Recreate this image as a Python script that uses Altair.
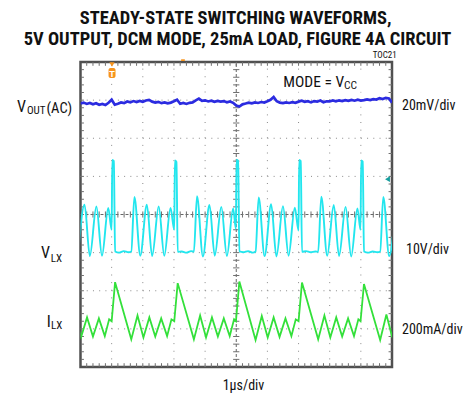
import altair as alt
import pandas as pd

# ---------------- data read from the scope screen ----------------
# time axis: microseconds (1 us/div, 10 divisions)
# VOUT(AC) trace, mV (20 mV/div)
vout_t = [0.0, 0.1, 0.2, 0.3, 0.4, 0.5, 0.6, 0.7, 0.8, 0.9,
          1.0, 1.1, 1.2, 1.3, 1.4, 1.5, 1.6, 1.7, 1.8, 1.9,
          2.0, 2.1, 2.2, 2.3, 2.4, 2.5, 2.6, 2.7, 2.8, 2.9,
          3.0, 3.1, 3.2, 3.3, 3.4, 3.5, 3.6, 3.7, 3.8, 3.9,
          4.0, 4.1, 4.2, 4.3, 4.4, 4.5, 4.6, 4.7, 4.8, 4.9,
          5.0, 5.1, 5.2, 5.3, 5.4, 5.5, 5.6, 5.7, 5.8, 5.9,
          6.0, 6.1, 6.2, 6.3, 6.4, 6.5, 6.6, 6.7, 6.8, 6.9,
          7.0, 7.1, 7.2, 7.3, 7.4, 7.5, 7.6, 7.7, 7.8, 7.9,
          8.0, 8.1, 8.2, 8.3, 8.4, 8.5, 8.6, 8.7, 8.8, 8.9,
          9.0, 9.1, 9.2, 9.3, 9.4, 9.5, 9.6, 9.7, 9.8, 9.9, 10.0]
vout_mv = [-0.8, -0.3, -1.0, -0.5, -1.2, -0.6, -1.4, -1.0, -1.6, -0.4,
           1.2, -1.4, -0.9, -0.2, -0.6, 0.3, -0.2, 0.5, 0.0, 0.6,
           0.1, 0.8, 1.1, 0.2, -0.3, 0.1, -0.6, -0.2, -0.7, -0.3,
           0.4, 1.2, -0.9, -0.5, -1.0, -0.4, -0.2, 0.9, 1.8, 0.6,
           0.9, 0.3, 0.7, 0.1, 0.6, 0.2, 0.5, -0.1, 0.3, -0.4,
           -1.8, -2.4, -1.2, -0.8, -0.3, -0.7, -0.2, -0.5, 0.0, -0.3,
           0.4, 1.2, 2.6, 0.4, -0.3, -0.6, -0.2, -0.5, -0.1, -0.4,
           0.2, 0.7, 0.1, 0.4, -0.2, 0.5, 0.2, 0.8, -0.1, 0.4,
           0.3, 0.8, 0.4, 0.9, 0.5, 1.0, 0.6, 1.1, 0.7, 1.2,
           0.8, 1.0, 1.4, 1.0, 1.5, 1.3, 2.0, 1.6, 2.2, 1.9, -0.3]

# VLX trace, volts (10 V/div)
vlx_t = [-0.08, 0.13, 0.30, 0.51, 0.69, 0.89,
         1.00, 1.02, 1.07, 1.11, 1.24, 1.39, 1.54, 1.63, 1.73, 1.92, 2.13, 2.30, 2.51, 2.69, 2.89,
         3.01, 3.03, 3.08, 3.12, 3.25, 3.40, 3.55, 3.64, 3.74, 3.93, 4.14, 4.31, 4.52, 4.70, 4.90,
         4.99, 5.01, 5.06, 5.10, 5.23, 5.38, 5.53, 5.62, 5.72, 5.91, 6.12, 6.29, 6.50, 6.68, 6.88,
         7.00, 7.02, 7.07, 7.11, 7.24, 7.39, 7.54, 7.63, 7.73, 7.92, 8.13, 8.30, 8.51, 8.69, 8.89,
         8.99, 9.01, 9.06, 9.10, 9.23, 9.38, 9.53, 9.62, 9.72, 9.91, 10.12]
vlx_v = [-0.9, 12.6, -0.9, 12.1, -0.8, 11.7,
         6.0, 24.3, 24.0, 0.3, 0.0, 0.4, 0.1, 0.3, 14.6, -0.8, 12.6, -0.9, 12.1, -0.8, 11.7,
         6.0, 24.2, 23.8, 0.2, 0.3, 0.0, 0.4, 0.2, 14.8, -1.0, 12.5, -0.8, 12.0, -0.9, 11.6,
         6.2, 24.4, 24.1, 0.3, 0.1, 0.4, 0.0, 0.3, 14.5, -0.9, 12.7, -1.0, 12.2, -0.8, 11.8,
         5.8, 24.3, 24.0, 0.2, 0.4, 0.1, 0.3, 0.2, 14.7, -0.8, 12.5, -0.9, 12.0, -1.0, 11.6,
         6.0, 24.2, 23.9, 0.3, 0.0, 0.3, 0.1, 0.3, 14.6, -0.9, 12.6]

# ILX trace, mA (200 mA/div)
ilx_t = [-0.17, 0.02, 0.21, 0.40, 0.59, 0.78, 0.92, 1.00,
         1.11, 1.63, 1.83, 2.02, 2.21, 2.40, 2.59, 2.78, 2.92, 3.01,
         3.12, 3.64, 3.84, 4.03, 4.22, 4.41, 4.60, 4.79, 4.93, 4.99,
         5.10, 5.62, 5.82, 6.01, 6.20, 6.39, 6.58, 6.77, 6.91, 7.00,
         7.11, 7.63, 7.83, 8.02, 8.21, 8.40, 8.59, 8.78, 8.92, 8.99,
         9.10, 9.62, 9.82, 10.01]
ilx_ma = [70, -43, 60, -40, 55, -38, 50, 40,
          245, -55, 70, -45, 60, -40, 55, -38, 50, 40,
          240, -55, 70, -45, 60, -40, 55, -38, 50, 40,
          248, -58, 68, -45, 60, -42, 55, -38, 50, 40,
          243, -55, 70, -45, 60, -40, 55, -38, 50, 40,
          235, -58, 75, -45]

# scope channel settings: (units per division, screen position in divisions)
VOUT_SCALE, VOUT_POS = 20.0, 2.95
VLX_SCALE, VLX_POS = 10.0, -1.0
ILX_SCALE, ILX_POS = 200.0, -3.0

# ---------------- styling ----------------
FONT = "Roboto Condensed, Liberation Sans, sans-serif"
BLUE = "#2b2be0"
CYAN = "#22e6ee"
GREEN = "#33e03a"
ORANGE = "#f7941d"
TEAL = "#169e9e"

xs = alt.Scale(domain=[0, 10], nice=False, zero=False)
ys = alt.Scale(domain=[-4, 4], nice=False, zero=False)


def X(f):
    return alt.X(f, type="quantitative", scale=xs, axis=None)


def Y(f):
    return alt.Y(f, type="quantitative", scale=ys, axis=None)


layers = []

# ---------------- graticule ----------------
vgrid = pd.DataFrame({"t": [1, 2, 3, 4, 6, 7, 8, 9], "y0": -4, "y1": 4})
hgrid = pd.DataFrame({"y": [-3, -2, -1, 1, 2, 3], "t0": 0, "t1": 10})
layers.append(alt.Chart(vgrid).mark_rule(color="#8a8a8a", strokeWidth=1, strokeDash=[1, 6.625])
              .encode(x=X("t"), y=Y("y0"), y2="y1"))
layers.append(alt.Chart(hgrid).mark_rule(color="#8a8a8a", strokeWidth=1, strokeDash=[1, 5.23])
              .encode(y=Y("y"), x=X("t0"), x2="t1"))

# centre cross
layers.append(alt.Chart(pd.DataFrame({"t": [5], "y0": -4, "y1": 4}))
              .mark_rule(color="#666666", strokeWidth=1, strokeDash=[3, 2])
              .encode(x=X("t"), y=Y("y0"), y2="y1"))
layers.append(alt.Chart(pd.DataFrame({"y": [0], "t0": 0, "t1": 10}))
              .mark_rule(color="#666666", strokeWidth=1, strokeDash=[3, 2])
              .encode(y=Y("y"), x=X("t0"), x2="t1"))

# minor ticks (0.2 div) on the frame edges and the centre cross
minor_t = [round(0.2 * k, 1) for k in range(1, 50)]
minor_y = [round(-4 + 0.2 * k, 1) for k in range(1, 40)]
vt_rows = []
for t in minor_t:
    vt_rows += [{"t": t, "y0": -4.0, "y1": -3.9},
                {"t": t, "y0": 3.9, "y1": 4.0},
                {"t": t, "y0": -0.08, "y1": 0.08}]
ht_rows = []
for y in minor_y:
    ht_rows += [{"y": y, "t0": 0.0, "t1": 0.11},
                {"y": y, "t0": 9.89, "t1": 10.0},
                {"y": y, "t0": 4.9, "t1": 5.1}]
layers.append(alt.Chart(pd.DataFrame(vt_rows)).mark_rule(color="#707070", strokeWidth=1, clip=True)
              .encode(x=X("t"), y=Y("y0"), y2="y1"))
layers.append(alt.Chart(pd.DataFrame(ht_rows)).mark_rule(color="#707070", strokeWidth=1, clip=True)
              .encode(y=Y("y"), x=X("t0"), x2="t1"))

# white box behind MODE label
layers.append(alt.Chart(pd.DataFrame({"t0": [6.46], "t1": [9.08], "y0": [3.22], "y1": [3.75]}))
              .mark_rect(color="white")
              .encode(x=X("t0"), x2="t1", y=Y("y0"), y2="y1"))

# ---------------- traces ----------------
layers.append(alt.Chart(pd.DataFrame({"t": vlx_t, "v": vlx_v}))
              .transform_calculate(div=f"datum.v / {VLX_SCALE} + ({VLX_POS})")
              .mark_line(color=CYAN, strokeWidth=1.9, interpolate="monotone", clip=True)
              .encode(x=X("t"), y=Y("div")))
layers.append(alt.Chart(pd.DataFrame({"t": ilx_t, "i": ilx_ma}))
              .transform_calculate(div=f"datum.i / {ILX_SCALE} + ({ILX_POS})")
              .mark_line(color=GREEN, strokeWidth=1.8, clip=True)
              .encode(x=X("t"), y=Y("div")))
layers.append(alt.Chart(pd.DataFrame({"t": vout_t, "mv": vout_mv}))
              .transform_calculate(div=f"datum.mv / {VOUT_SCALE} + ({VOUT_POS})")
              .mark_line(color=BLUE, strokeWidth=2.7, clip=True)
              .encode(x=X("t"), y=Y("div")))

# ---------------- scope markers ----------------
layers.append(alt.Chart(pd.DataFrame({"t0": [0.90], "t1": [1.124], "y0": [3.58], "y1": [3.843]}))
              .mark_rect(color=ORANGE, cornerRadius=2)
              .encode(x=X("t0"), x2="t1", y=Y("y0"), y2="y1"))
layers.append(alt.Chart(pd.DataFrame({"t": [1.011], "y": [3.934]}))
              .mark_point(shape="triangle-down", filled=True, size=28, color=ORANGE, opacity=1)
              .encode(x=X("t"), y=Y("y")))
layers.append(alt.Chart(pd.DataFrame({"t": [1.011], "y": [3.615]}))
              .mark_text(text="T", font="Liberation Sans", fontWeight="bold", fontSize=9,
                         color="white", align="center", baseline="alphabetic")
              .encode(x=X("t"), y=Y("y")))
layers.append(alt.Chart(pd.DataFrame({"t0": [3.23], "t1": [3.35], "y0": [4.026], "y1": [4.071]}))
              .mark_rect(color=ORANGE)
              .encode(x=X("t0"), x2="t1", y=Y("y0"), y2="y1"))
layers.append(alt.Chart(pd.DataFrame({"t": [9.855], "y": [0.926]}))
              .mark_point(shape="triangle-left", filled=True, size=32, color=TEAL, opacity=1)
              .encode(x=X("t"), y=Y("y")))

# ---------------- text ----------------
labels = [
    # text, t, y(div), size, weight, align
    ("STEADY-STATE SWITCHING WAVEFORMS,", 4.98, 5.0, 18.5, "bold", "center"),
    ("5V OUTPUT, DCM MODE, 25mA LOAD, FIGURE 4A CIRCUIT", 5.04, 4.446, 18.5, "bold", "center"),
    ("TOC21", 9.38, 4.10, 9, "normal", "left"),
    ("MODE = V", 6.51, 3.352, 15.5, "normal", "left"),
    ("CC", 8.46, 3.284, 11.5, "normal", "left"),
    ("V", -2.039, 2.689, 16, "normal", "left"),
    ("OUT", -1.72, 2.649, 11, "normal", "left"),
    ("(AC)", -1.09, 2.675, 14.5, "normal", "left"),
    ("V", -1.268, -1.149, 16, "normal", "left"),
    ("LX", -0.953, -1.238, 11, "normal", "left"),
    ("I", -1.085, -2.959, 16, "normal", "left"),
    ("LX", -0.947, -3.011, 11, "normal", "left"),
    ("20mV/div", 10.321, 2.741, 14, "normal", "left"),
    ("10V/div", 10.449, -1.036, 14, "normal", "left"),
    ("200mA/div", 10.32, -3.134, 14, "normal", "left"),
    ("1\u00b5s/div", 4.565, -4.61, 14, "normal", "left"),
]
for text, t, y, size, weight, align in labels:
    layers.append(alt.Chart(pd.DataFrame({"t": [t], "y": [y]}))
                  .mark_text(text=text, font=FONT, fontSize=size, fontWeight=weight,
                             align=align, baseline="alphabetic", color="#111111")
                  .encode(x=X("t"), y=Y("y")))

chart = (alt.layer(*layers)
         .properties(width=311.5, height=305,
                     autosize=alt.AutoSizeParams(type="none"),
                     padding={"left": 72.5, "top": 54, "right": 71, "bottom": 26})
         .configure_view(stroke="#505050", strokeWidth=2.5))

chart.save("out.html", embed_options={"renderer": "svg", "actions": False})
